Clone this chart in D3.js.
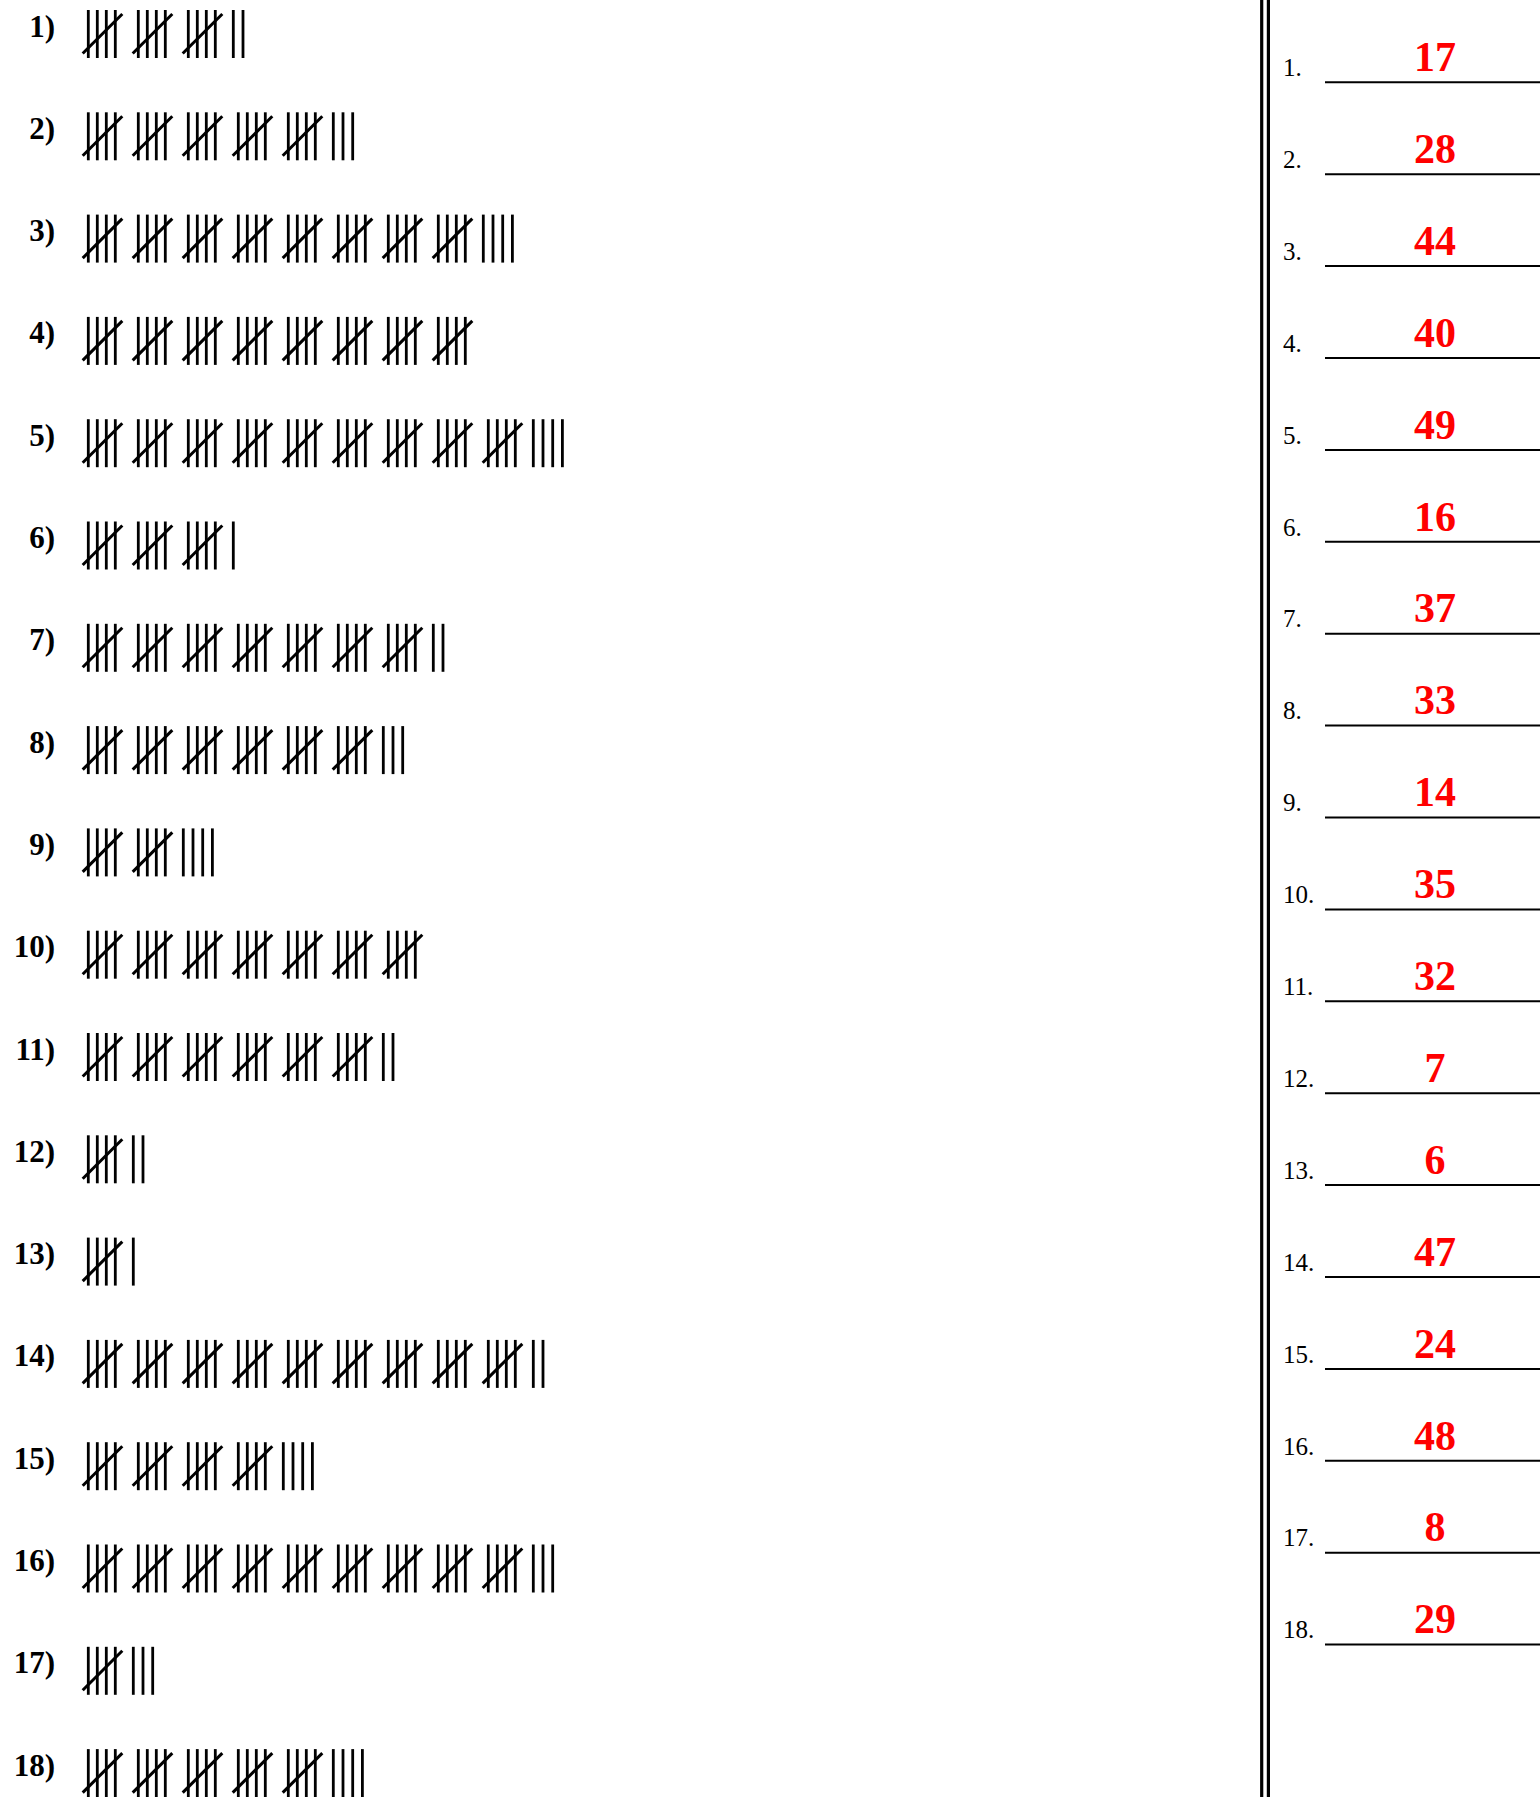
<!DOCTYPE html>
<html>
<head>
<meta charset="utf-8">
<script src="https://cdn.jsdelivr.net/npm/d3@7"></script>
<style>
  body { margin: 0; background: #fff; }
  svg { display: block; }
</style>
</head>
<body>
<script>
  // Tally counts, one per question (answer key shown in red on the right)
  const questions = ["1", "2", "3", "4", "5", "6", "7", "8", "9", "10", "11", "12", "13", "14", "15", "16", "17", "18"];
  const counts = [17, 28, 44, 40, 49, 16, 37, 33, 14, 35, 32, 7, 6, 47, 24, 48, 8, 29];

  const width = 1540;
  const height = 1797;

  const svg = d3.select("body")
    .append("svg")
    .attr("width", width)
    .attr("height", height);

  // Row position of each tally line (top of the strokes)
  const yRow = d3.scaleLinear().domain([0, 17]).range([10, 1749.1]);
  // Position of a group of five inside a row
  const xGroup = d3.scaleLinear().domain([0, 1]).range([88.3, 138.3]);
  const strokeH = 48;
  const gap = 9;      // stroke spacing inside a group
  const single = 9.7; // spacing of the loose strokes

  // Build the marks for every row from its count
  const rows = counts.map((c, i) => {
    const groups = Math.floor(c / 5);
    const rest = c % 5;
    const lines = [];
    const diags = [];
    for (let g = 0; g < groups; g++) {
      const x0 = xGroup(g);
      for (let k = 0; k < 4; k++) lines.push(x0 + k * gap);
      diags.push(x0);
    }
    const restStart = groups > 0 ? xGroup(groups - 1) + 45 : xGroup(0);
    for (let k = 0; k < rest; k++) lines.push(restStart + k * single);
    return { i, lines, diags };
  });

  const left = svg.append("g");

  const row = left.selectAll("g.row")
    .data(rows)
    .enter()
    .append("g")
    .attr("class", "row")
    .attr("transform", d => `translate(0,${yRow(d.i)})`);

  // Question labels
  row.append("text")
    .text(d => questions[d.i] + ")")
    .attr("x", 55)
    .attr("y", 26.5)
    .attr("text-anchor", "end")
    .attr("font-family", "'Liberation Serif', 'Times New Roman', serif")
    .attr("font-weight", "bold")
    .attr("font-size", 31)
    .attr("fill", "#000");

  // Vertical strokes
  row.selectAll("line.v")
    .data(d => d.lines)
    .enter()
    .append("line")
    .attr("class", "v")
    .attr("x1", d => d)
    .attr("x2", d => d)
    .attr("y1", 0)
    .attr("y2", strokeH)
    .attr("stroke", "#000")
    .attr("stroke-width", 2.8);

  // Diagonal strike through each group of five
  row.selectAll("line.d")
    .data(d => d.diags)
    .enter()
    .append("line")
    .attr("class", "d")
    .attr("x1", d => d - 5.6)
    .attr("y1", 43.5)
    .attr("x2", d => d + 34)
    .attr("y2", 4)
    .attr("stroke", "#000")
    .attr("stroke-width", 3);

  // Double divider
  [1261.7, 1268.4].forEach(x => {
    svg.append("line")
      .attr("x1", x).attr("x2", x)
      .attr("y1", 0).attr("y2", height)
      .attr("stroke", "#000")
      .attr("stroke-width", 3.2);
  });

  // Answer column
  const yAns = d3.scaleLinear().domain([0, 17]).range([82.3, 1644.6]);

  const ans = svg.append("g").selectAll("g")
    .data(counts)
    .enter()
    .append("g")
    .attr("transform", (d, i) => `translate(0,${yAns(i)})`);

  ans.append("line")
    .attr("x1", 1325)
    .attr("x2", width)
    .attr("y1", 0)
    .attr("y2", 0)
    .attr("stroke", "#000")
    .attr("stroke-width", 2);

  ans.append("text")
    .text((d, i) => questions[i] + ".")
    .attr("x", 1283)
    .attr("y", -6.3)
    .attr("font-family", "'Liberation Serif', 'Times New Roman', serif")
    .attr("font-size", 25)
    .attr("fill", "#000");

  ans.append("text")
    .text(d => d)
    .attr("x", 1435)
    .attr("y", -11.3)
    .attr("text-anchor", "middle")
    .attr("font-family", "'Liberation Serif', 'Times New Roman', serif")
    .attr("font-weight", "bold")
    .attr("font-size", 42)
    .attr("fill", "#ff0000");
</script>
</body>
</html>
